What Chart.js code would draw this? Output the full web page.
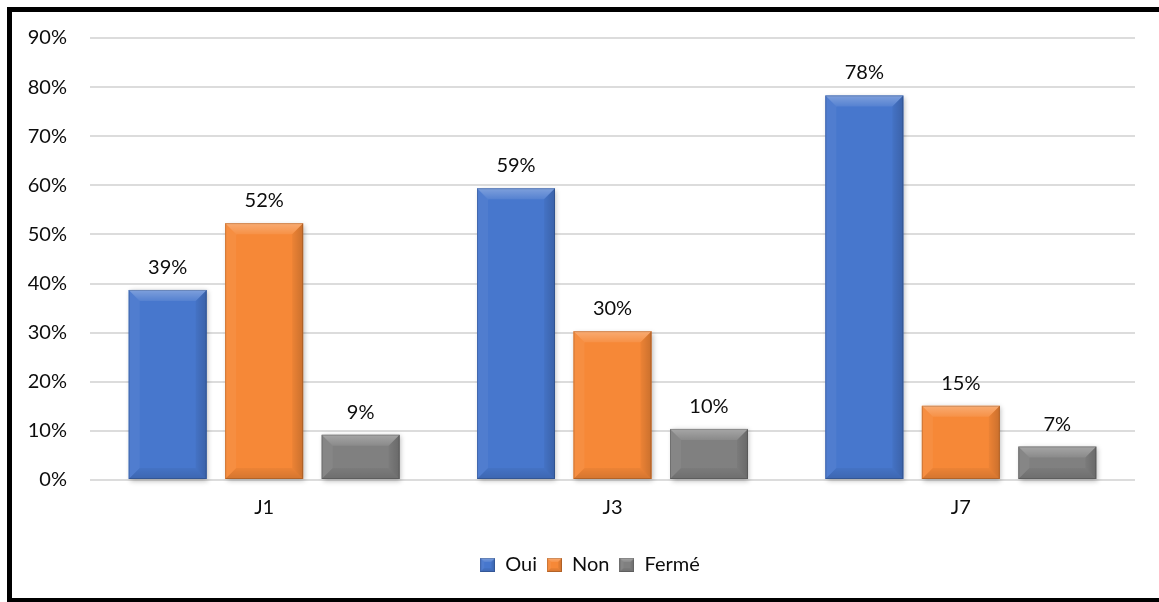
<!DOCTYPE html>
<html>
<head>
<meta charset="utf-8">
<script src="https://cdn.jsdelivr.net/npm/chart.js@4.4.1/dist/chart.umd.min.js"></script>
<style>
html,body{margin:0;padding:0;background:#fff;}
#wrap{width:1159px;height:602px;position:relative;}
</style>
</head>
<body>
<div id="wrap"><canvas id="c" width="1159" height="602"></canvas></div>
<script>
const categories = ['J1', 'J3', 'J7'];
const seriesNames = ['Oui', 'Non', 'Fermé'];
const oui = [38.7, 59.4, 78.3];
const non = [52.3, 30.3, 15.1];
const ferme = [9.2, 10.4, 6.8];
const yTicks = [0, 10, 20, 30, 40, 50, 60, 70, 80, 90];
const colors = ['#4777CD', '#F68837', '#808080'];

const FONT = 'Lato, "Open Sans", sans-serif';

function drawBevel(ctx, left, top, right, bottom, b) {
  const h = bottom - top, w = right - left;
  b = Math.min(b, h / 2, w / 2);
  let g = ctx.createLinearGradient(0, top, 0, top + b);
  g.addColorStop(0, 'rgba(255,255,255,0.30)');
  g.addColorStop(1, 'rgba(255,255,255,0.08)');
  ctx.fillStyle = g;
  ctx.beginPath();
  ctx.moveTo(left, top); ctx.lineTo(right, top); ctx.lineTo(right - b, top + b); ctx.lineTo(left + b, top + b); ctx.closePath(); ctx.fill();
  ctx.fillStyle = 'rgba(255,255,255,0.05)';
  ctx.beginPath();
  ctx.moveTo(left, top); ctx.lineTo(left + b, top + b); ctx.lineTo(left + b, bottom - b); ctx.lineTo(left, bottom); ctx.closePath(); ctx.fill();
  g = ctx.createLinearGradient(right - b, 0, right, 0);
  g.addColorStop(0, 'rgba(0,0,0,0.04)');
  g.addColorStop(1, 'rgba(0,0,0,0.18)');
  ctx.fillStyle = g;
  ctx.beginPath();
  ctx.moveTo(right, top); ctx.lineTo(right, bottom); ctx.lineTo(right - b, bottom - b); ctx.lineTo(right - b, top + b); ctx.closePath(); ctx.fill();
  g = ctx.createLinearGradient(0, bottom - b, 0, bottom);
  g.addColorStop(0, 'rgba(0,0,0,0.04)');
  g.addColorStop(1, 'rgba(0,0,0,0.14)');
  ctx.fillStyle = g;
  ctx.beginPath();
  ctx.moveTo(left, bottom); ctx.lineTo(left + b, bottom - b); ctx.lineTo(right - b, bottom - b); ctx.lineTo(right, bottom); ctx.closePath(); ctx.fill();
  ctx.strokeStyle = 'rgba(0,0,0,0.16)';
  ctx.lineWidth = 1;
  ctx.strokeRect(left + 0.5, top + 0.5, w - 1, h - 1);
}

function legendIcon(color) {
  const cv = document.createElement('canvas');
  cv.width = 15; cv.height = 14;
  const c = cv.getContext('2d');
  c.fillStyle = color;
  c.fillRect(0, 0, 15, 14);
  drawBevel(c, 0, 0, 15, 14, 4);
  return cv;
}

const bevelPlugin = {
  id: 'bevel',
  beforeDatasetsDraw(chart) {
    const ctx = chart.ctx;
    chart.data.datasets.forEach((ds, i) => {
      chart.getDatasetMeta(i).data.forEach(el => {
        const p = el.getProps(['x', 'y', 'base', 'width'], true);
        ctx.save();
        ctx.shadowColor = 'rgba(0,0,0,0.28)';
        ctx.shadowBlur = 5;
        ctx.shadowOffsetX = 1.5;
        ctx.shadowOffsetY = 1.5;
        ctx.fillStyle = ds.backgroundColor;
        ctx.fillRect(p.x - p.width / 2, p.y, p.width, p.base - p.y);
        ctx.restore();
      });
    });
  },
  afterDatasetsDraw(chart) {
    const ctx = chart.ctx;
    chart.data.datasets.forEach((ds, i) => {
      chart.getDatasetMeta(i).data.forEach((el, j) => {
        const p = el.getProps(['x', 'y', 'base', 'width'], true);
        ctx.save();
        drawBevel(ctx, p.x - p.width / 2, p.y, p.x + p.width / 2, p.base, 11);
        ctx.restore();
        ctx.save();
        ctx.fillStyle = '#0d0d0d';
        ctx.font = '20px ' + FONT;
        ctx.textAlign = 'center';
        ctx.textBaseline = 'alphabetic';
        ctx.fillText(Math.round(ds.data[j]) + '%', p.x, p.y - 16);
        ctx.restore();
      });
    });
  }
};

const legendShift = {
  id: 'legendShift',
  afterLayout(chart) {
    if (chart.legend) { chart.legend.left += 45; }
  }
};

const framePlugin = {
  id: 'frame',
  afterDraw(chart) {
    const ctx = chart.ctx;
    ctx.save();
    ctx.fillStyle = '#000';
    ctx.fillRect(7, 7, 1159 - 7, 5);
    ctx.fillRect(7, 7, 5, 602 - 7);
    ctx.fillRect(7, 598, 1159 - 7, 5);
    ctx.restore();
  }
};

const icons = colors.map(legendIcon);

new Chart(document.getElementById('c'), {
  type: 'bar',
  data: {
    labels: categories,
    datasets: [
      { label: seriesNames[0], data: oui, backgroundColor: colors[0], pointStyle: icons[0] },
      { label: seriesNames[1], data: non, backgroundColor: colors[1], pointStyle: icons[1] },
      { label: seriesNames[2], data: ferme, backgroundColor: colors[2], pointStyle: icons[2] }
    ]
  },
  options: {
    responsive: false,
    animation: false,
    devicePixelRatio: 1,
    categoryPercentage: 0.831,
    barPercentage: 0.808,
    layout: { padding: { left: 0, right: 24, top: 38, bottom: 17 } },
    scales: {
      x: {
        grid: { display: false, drawTicks: false },
        border: { display: false },
        ticks: { color: '#0d0d0d', font: { family: FONT, size: 20 }, padding: 16 },
        afterFit(s) { s.height = 65; }
      },
      y: {
        min: 0, max: 90,
        afterBuildTicks(s) { s.ticks = yTicks.map(v => ({ value: v })); },
        grid: { color: '#DCDCDC', lineWidth: 2, drawTicks: false },
        border: { display: false },
        ticks: { color: '#0d0d0d', font: { family: FONT, size: 20 }, padding: 23, callback: v => v + '%' },
        afterFit(s) { s.width = 90; }
      }
    },
    plugins: {
      legend: {
        position: 'bottom',
        labels: {
          usePointStyle: true,
          boxWidth: 15, boxHeight: 14,
          color: '#0d0d0d',
          font: { family: FONT, size: 20 },
          padding: 10
        }
      },
      tooltip: { enabled: false }
    }
  },
  plugins: [bevelPlugin, legendShift, framePlugin]
});
</script>
</body>
</html>
